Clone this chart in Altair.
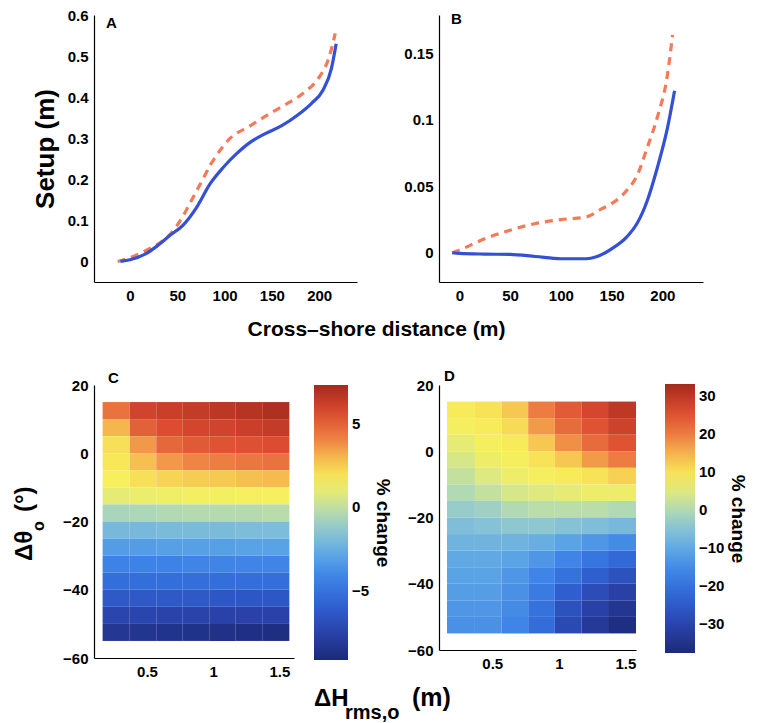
import altair as alt
import pandas as pd

SANS = "Liberation Sans, Arial"

# ---------------- Panel A (setup vs cross-shore distance) ----------------
a_blue_x = [-10, 0, 17, 30, 42, 56, 70, 85, 99, 113, 127, 142, 160, 177, 192, 204, 213, 218]
a_blue_y = [0, 0.004, 0.019, 0.04, 0.063, 0.088, 0.13, 0.19, 0.23, 0.263, 0.29, 0.31, 0.33, 0.356, 0.385, 0.417, 0.47, 0.53]
a_orng_x = [-13, 0, 17, 35, 42, 49, 56, 63, 70, 77, 85, 92, 106, 127, 142, 163, 185, 199, 210, 217]
a_orng_y = [0, 0.009, 0.027, 0.051, 0.065, 0.085, 0.11, 0.14, 0.17, 0.20, 0.235, 0.26, 0.30, 0.33, 0.352, 0.38, 0.413, 0.445, 0.494, 0.555]

# ---------------- Panel B ----------------
b_blue_x = [-7, 0, 25, 50, 75, 100, 125, 135, 150, 165, 175, 185, 195, 205, 212]
b_blue_y = [0, -0.0005, -0.001, -0.0012, -0.0028, -0.0045, -0.0045, -0.003, 0.003, 0.012, 0.022, 0.039, 0.064, 0.094, 0.122]
b_orng_x = [-7, 0, 25, 50, 75, 100, 125, 140, 150, 165, 175, 185, 195, 205, 210]
b_orng_y = [0, 0.002, 0.0105, 0.017, 0.022, 0.025, 0.027, 0.033, 0.037, 0.047, 0.058, 0.079, 0.102, 0.134, 0.164]

# ---------------- Panel C heat map (% change) ----------------
c_x_edges = [0.165, 0.37, 0.57, 0.77, 0.97, 1.17, 1.37, 1.575]
c_y_edges = [15, 10, 5, 0, -5, -10, -15, -20, -25, -30, -35, -40, -45, -50, -55]
c_values = [
    [4.5, 6.0, 6.2, 6.4, 6.6, 6.8, 7.0],
    [3.0, 5.0, 5.6, 5.9, 6.0, 6.2, 6.4],
    [2.0, 3.6, 4.8, 5.2, 5.4, 5.5, 5.6],
    [1.8, 2.8, 3.6, 4.0, 4.2, 4.4, 4.5],
    [1.6, 2.0, 2.3, 2.5, 2.6, 2.8, 2.9],
    [1.0, 1.2, 1.3, 1.4, 1.4, 1.5, 1.5],
    [-0.6, -0.5, -0.4, -0.3, -0.3, -0.3, -0.2],
    [-2.0, -2.0, -1.9, -1.9, -1.9, -1.8, -1.8],
    [-3.2, -3.2, -3.1, -3.1, -3.1, -3.0, -3.0],
    [-4.2, -4.2, -4.2, -4.1, -4.1, -4.1, -4.1],
    [-5.2, -5.2, -5.2, -5.2, -5.2, -5.2, -5.2],
    [-6.3, -6.3, -6.3, -6.3, -6.4, -6.4, -6.4],
    [-7.3, -7.3, -7.4, -7.4, -7.5, -7.5, -7.5],
    [-8.2, -8.3, -8.4, -8.5, -8.6, -8.7, -8.8],
]
c_range = [-9.1, 7.3]
c_ticks = [-5, 0, 5]

# ---------------- Panel D heat map (% change) ----------------
d_x_edges = [0.16, 0.37, 0.57, 0.77, 0.97, 1.17, 1.37, 1.58]
d_y_edges = [15, 10, 5, 0, -5, -10, -15, -20, -25, -30, -35, -40, -45, -50, -55]
d_values = [
    [9, 10, 13, 20, 24, 27, 30],
    [8, 9, 11, 17, 22, 25, 28],
    [6, 8, 9, 13, 18, 22, 25],
    [4, 7, 8, 10, 13, 17, 20],
    [2, 5, 7, 8, 9, 10, 12],
    [0, 2, 4, 5, 6, 7, 7],
    [-3, -2, 0, 1, 1, 1, 0],
    [-6, -5, -4, -4, -5, -6, -7],
    [-8, -8, -8, -9, -11, -13, -15],
    [-10, -10, -11, -13, -16, -19, -22],
    [-11, -11, -13, -16, -20, -24, -27],
    [-12, -12, -14, -18, -24, -28, -31],
    [-13, -13, -15, -20, -27, -31, -34],
    [-14, -14, -16, -21, -29, -33, -36],
]
d_range = [-37.6, 33.2]
d_ticks = [-30, -20, -10, 0, 10, 20, 30]

# colormap (fraction of colorbar range -> colour)
cmap_frac = [0, 0.1, 0.2, 0.3, 0.38, 0.46, 0.52, 0.58, 0.65, 0.72, 0.8, 0.9, 1.0]
cmap_cols = ["#1b2a78", "#2a42aa", "#2f62d2", "#3d82e6", "#5ca6e6", "#86c2d6", "#aad6bc",
             "#d2e68e", "#f8f05c", "#f6c550", "#ee8444", "#dc4a30", "#a42a1c"]

BLUE = "#3450d4"
ORANGE = "#f47a58"
TICK = 15


def cscale(rng):
    lo, hi = rng
    return alt.Scale(domain=[lo + f * (hi - lo) for f in cmap_frac], range=cmap_cols, interpolate="rgb")


def txt(text, x, y, size, angle=0, baseline="alphabetic", align="left"):
    return alt.Chart(pd.DataFrame({"t": [text]})).mark_text(
        font=SANS, fontSize=size, fontWeight="bold", color="black",
        align=align, baseline=baseline, angle=angle,
    ).encode(x=alt.value(x), y=alt.value(y), text="t:N")


def line_panel(bx, by, ox, oy, xdom, ydom, yvals, w, h, letter, lx, ly, ytitle=None, xtitle=None):
    dfb = pd.DataFrame({"x": bx, "y": by})
    dfo = pd.DataFrame({"x": ox, "y": oy})
    if xtitle:
        xax = alt.Axis(values=[0, 50, 100, 150, 200], format="~r", ticks=False, title=xtitle,
                       titleX=282, titleY=36, titleAlign="center", titleBaseline="top",
                       titleFont=SANS, titleFontSize=21)
    else:
        xax = alt.Axis(values=[0, 50, 100, 150, 200], format="~r", ticks=False, title=None)
    if ytitle:
        yax = alt.Axis(values=yvals, format="~r", ticks=False, title=ytitle,
                       titleFont=SANS, titleFontSize=26, titlePadding=9)
    else:
        yax = alt.Axis(values=yvals, format="~r", ticks=False, title=None)
    X = alt.X("x:Q", scale=alt.Scale(domain=xdom, nice=False, zero=False), axis=xax)
    Y = alt.Y("y:Q", scale=alt.Scale(domain=ydom, nice=False, zero=False), axis=yax)
    orng = alt.Chart(dfo).mark_line(color=ORANGE, strokeWidth=3.2, strokeDash=[8, 6],
                                    interpolate="monotone").encode(x=X, y=Y)
    blue = alt.Chart(dfb).mark_line(color=BLUE, strokeWidth=3.2,
                                    interpolate="monotone").encode(x=X, y=Y)
    lab = txt(letter, lx, ly, 15, baseline="top")
    return alt.layer(orng, blue, lab).properties(width=w, height=h)


def heat_panel(xe, ye, vals, rng, ticks, xdom, w, h, letter, lx, ly, legx, legy, glen, gthick,
               tpad, extra=()):
    rows = []
    for i, r in enumerate(vals):
        for j, v in enumerate(r):
            rows.append({"x": xe[j], "x2": xe[j + 1], "y": ye[i], "y2": ye[i + 1], "v": v})
    df = pd.DataFrame(rows)
    rect = alt.Chart(df).mark_rect().encode(
        x=alt.X("x:Q", scale=alt.Scale(domain=xdom, nice=False, zero=False),
                axis=alt.Axis(values=[0.5, 1, 1.5], format="~r", ticks=False, title=None)),
        x2="x2:Q",
        y=alt.Y("y:Q", scale=alt.Scale(domain=[-60, 20], nice=False, zero=False),
                axis=alt.Axis(values=[-60, -40, -20, 0, 20], format="~r", ticks=False, title=None)),
        y2="y2:Q",
        color=alt.Color("v:Q", scale=cscale(rng), legend=alt.Legend(
            type="gradient", orient="none", legendX=legx, legendY=legy, direction="vertical",
            gradientLength=glen, gradientThickness=gthick, gradientStrokeWidth=0,
            values=ticks, format="~r", labelFont=SANS, labelFontSize=TICK,
            labelFontWeight="bold", labelColor="black", labelOffset=4, labelOverlap=False,
            title="% change", titleOrient="right", titleAnchor="middle", titleFont=SANS,
            titleFontSize=19, titleFontWeight="bold", titleColor="black", titlePadding=tpad,
            padding=0)),
    )
    lab = txt(letter, lx, ly, 15, baseline="top")
    return alt.layer(rect, lab, *extra).properties(width=w, height=h)


A = line_panel(a_blue_x, a_blue_y, a_orng_x, a_orng_y, [-38, 240], [-0.05, 0.6],
               [0, 0.1, 0.2, 0.3, 0.4, 0.5, 0.6], 263, 267, "A", 12, 1,
               ytitle="Setup (m)", xtitle="Cross–shore distance (m)")
B = line_panel(b_blue_x, b_blue_y, b_orng_x, b_orng_y, [-20, 240], [-0.022, 0.179],
               [0, 0.05, 0.1, 0.15], 264, 267, "B", 12, -3)

# axis titles with sub/superscripts for the bottom row (drawn in panel C's frame)
c_extra = [
    txt("ΔH", 220, 321, 24),
    txt("rms,o", 251, 334, 20),
    txt("(m)", 318, 321, 25),
    txt("Δθ", -62, 176, 24, angle=270),
    txt("o", -50, 146, 16, angle=270),
    txt("(°)", -62, 127, 24, angle=270),
]

C = heat_panel(c_x_edges, c_y_edges, c_values, c_range, c_ticks, [0.1, 1.61], 200, 273,
               "C", 14, -14, 220, 0, 275, 34, 4, extra=c_extra)
D = heat_panel(d_x_edges, d_y_edges, d_values, d_range, d_ticks, [0.1, 1.58], 197, 265,
               "D", 5, -16, 226, -1, 269, 30, 4)

chart = alt.concat(A, B, C, D, columns=2, bounds="flush",
                   spacing={"row": 103, "column": 82}).resolve_scale(
    color="independent").resolve_legend(color="independent").properties(
    padding={"left": 5, "top": 0, "right": 0, "bottom": 0}
).configure_view(stroke=None).configure_axis(
    domainColor="black", domainWidth=1.2, labelFont=SANS, labelFontSize=TICK,
    labelFontWeight="bold", labelColor="black", labelPadding=6, grid=False,
    titleColor="black", titleFontWeight="bold",
)

chart.save("out.html", embed_options={"renderer": "svg", "actions": False})
